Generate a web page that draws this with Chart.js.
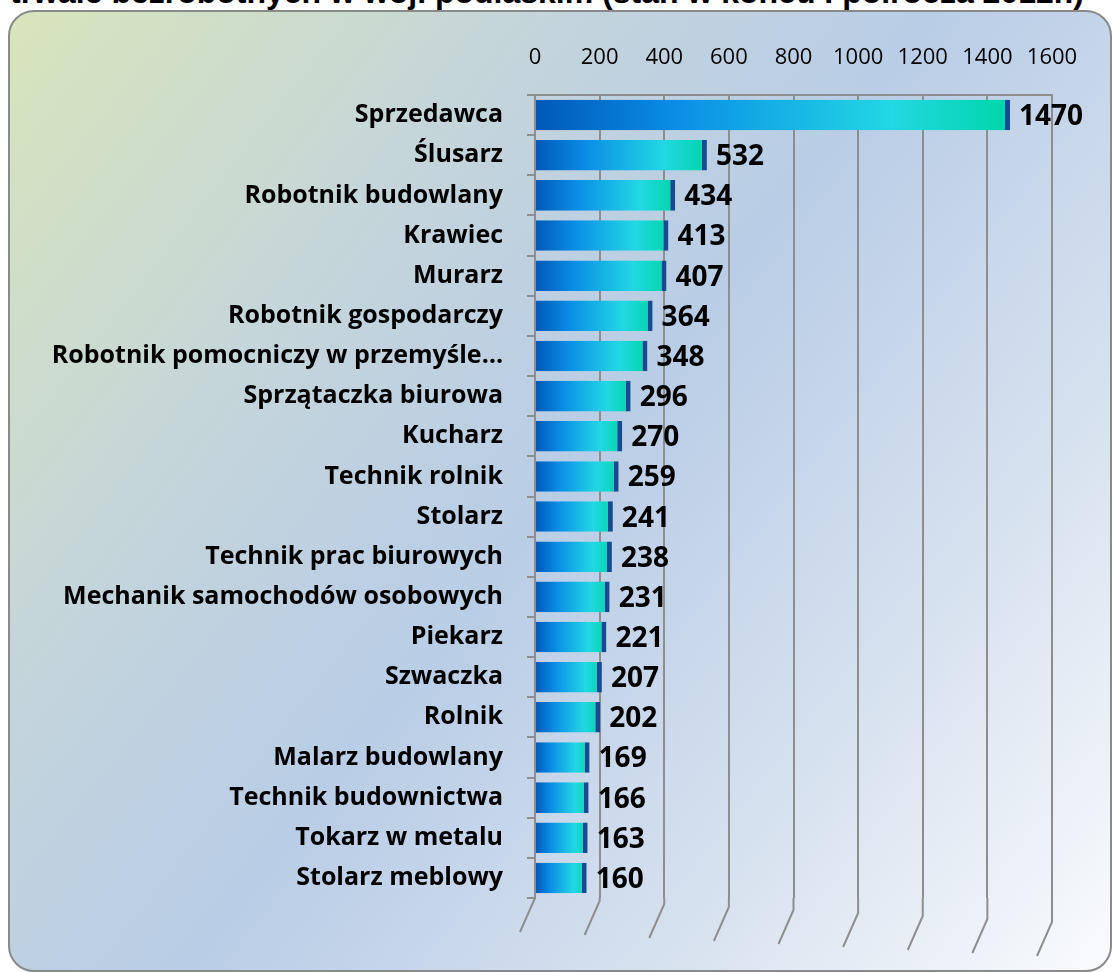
<!DOCTYPE html>
<html>
<head>
<meta charset="utf-8">
<script src="https://cdn.jsdelivr.net/npm/chart.js@4.4.0/dist/chart.umd.min.js"></script>
<style>
    html, body { margin: 0; padding: 0; width: 1112px; height: 972px; overflow: hidden; background: #fff; }
    #title {
        position: absolute; left: 10px; top: -24px; white-space: nowrap;
        font: bold 32px "Liberation Sans", Arial, sans-serif; line-height: 32px; color: #000;
    }
    #box {
        position: absolute; left: 8px; top: 10px; width: 1100px; height: 958px;
        border: 2px solid #8a8a8a; border-radius: 26px;
        background: linear-gradient(128deg, #d8e5bb 0%, #c3d4dc 30%, #b9cde6 50%, #d6e1ef 75%, #fafbfd 100%);
    }
    #wrap { position: absolute; left: 0; top: 0; width: 1112px; height: 972px; }
</style>
</head>
<body>
<div id="title">trwale bezrobotnych w woj. podlaskim (stan w końcu I półrocza 2012r.)</div>
<div id="box"></div>
<div id="wrap"><canvas id="chart"></canvas></div>
<script>
let categories = [
    'Sprzedawca', 'Ślusarz', 'Robotnik budowlany', 'Krawiec', 'Murarz',
    'Robotnik gospodarczy', 'Robotnik pomocniczy w przemyśle…', 'Sprzątaczka biurowa',
    'Kucharz', 'Technik rolnik', 'Stolarz', 'Technik prac biurowych',
    'Mechanik samochodów osobowych', 'Piekarz', 'Szwaczka', 'Rolnik',
    'Malarz budowlany', 'Technik budownictwa', 'Tokarz w metalu', 'Stolarz meblowy'
];
let values = [1470, 532, 434, 413, 407, 364, 348, 296, 270, 259, 241, 238, 231, 221, 207, 202, 169, 166, 163, 160];
let tickValues = [0, 200, 400, 600, 800, 1000, 1200, 1400, 1600];

// bar fill: dark blue -> cyan -> teal along the bar length
function barFill(ctx) {
    let chart = ctx.chart;
    let x = chart.scales.x;
    if (!x || ctx.raw === undefined) return '#1a8fe0';
    let x0 = x.getPixelForValue(0);
    let x1 = x.getPixelForValue(ctx.raw);
    if (!isFinite(x0) || !isFinite(x1) || x1 <= x0) return '#1a8fe0';
    let g = chart.ctx.createLinearGradient(x0, 0, x1, 0);
    g.addColorStop(0, '#0058b8');
    g.addColorStop(0.3, '#0a8ee6');
    g.addColorStop(0.75, '#22d8e4');
    g.addColorStop(1, '#00d6a8');
    return g;
}

// value labels next to the bars
let valueLabels = {
    id: 'valueLabels',
    afterDatasetsDraw(chart) {
        let c = chart.ctx;
        let meta = chart.getDatasetMeta(0);
        c.save();
        c.font = 'bold 28px "Open Sans", sans-serif';
        c.fillStyle = '#000';
        c.textBaseline = 'middle';
        meta.data.forEach(function (bar, i) {
            c.fillText(values[i], bar.x + 9, bar.y + 2);
        });
        c.restore();
    }
};

// little floor lines under the grid, like the 3D chart
let floorLines = {
    id: 'floorLines',
    beforeDatasetsDraw(chart) {
        let c = chart.ctx;
        let x = chart.scales.x;
        let bottom = chart.chartArea.bottom;
        c.save();
        c.strokeStyle = '#8e8e8e';
        c.lineWidth = 2;
        tickValues.forEach(function (v, i) {
            let px = x.getPixelForValue(v);
            let drop = i * 3;
            c.beginPath();
            c.moveTo(px, bottom);
            c.lineTo(px, bottom + drop);
            c.lineTo(px - 15, bottom + drop + 34);
            c.stroke();
        });
        c.restore();
    }
};

let myChart = new Chart(document.getElementById('chart'), {
    type: 'bar',
    data: {
        labels: categories,
        datasets: [{
            data: values,
            backgroundColor: barFill,
            borderColor: '#164a92',
            borderWidth: {top: 0, right: 5, bottom: 0, left: 0},
            borderSkipped: false,
            barPercentage: 0.76,
            categoryPercentage: 1
        }]
    },
    options: {
        indexAxis: 'y',
        responsive: true,
        maintainAspectRatio: false,
        animation: false,
        layout: {padding: {top: 40, right: 60, bottom: 74, left: 0}},
        plugins: {
            legend: {display: false},
            tooltip: {enabled: false}
        },
        scales: {
            x: {
                position: 'top',
                min: 0,
                max: 1600,
                afterFit: function (s) { s.height = 55; },
                afterBuildTicks: function (s) { s.ticks = tickValues.map(function (v) { return {value: v}; }); },
                ticks: {
                    color: '#000',
                    padding: 24,
                    font: {family: '"Open Sans", sans-serif', size: 22},
                    callback: function (v) { return String(v); }
                },
                grid: {color: '#8e8e8e', lineWidth: 2, drawTicks: false},
                border: {display: true, color: '#8e8e8e', width: 2}
            },
            y: {
                afterFit: function (s) { s.width = 535; },
                ticks: {
                    color: '#000',
                    padding: 24,
                    font: {family: '"Open Sans", sans-serif', size: 25, weight: 'bold'}
                },
                grid: {drawOnChartArea: false, color: '#8e8e8e', lineWidth: 2, tickLength: 8},
                border: {display: true, color: '#8e8e8e', width: 2}
            }
        }
    },
    plugins: [valueLabels, floorLines]
});
</script>
</body>
</html>
